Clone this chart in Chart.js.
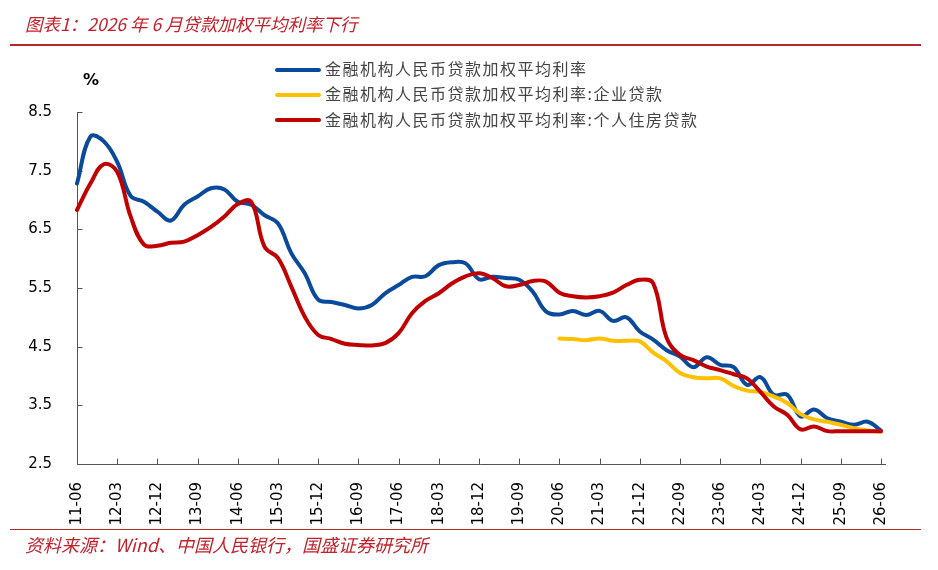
<!DOCTYPE html>
<html>
<head>
<meta charset="utf-8">
<script src="https://cdn.jsdelivr.net/npm/chart.js@4.4.1/dist/chart.umd.min.js"></script>
<style>
  body { margin: 0; background: #fff; }
  #wrap { position: relative; width: 938px; height: 570px; overflow: hidden; }
  #c { position: absolute; left: 0; top: 0; }
  .title, .source { position: absolute; left: 25px; color: #c3202b; font-style: italic;
    font-family: "Noto Sans CJK SC", sans-serif; white-space: nowrap; }
  .title { top: 11px; font-size: 17.5px; }
  .source { top: 531px; font-size: 18px; }
  .rule { position: absolute; left: 10px; width: 911px; height: 1.5px; background: #b7282e; }
  .pct { position: absolute; left: 83px; top: 70px; font: bold 16px "DejaVu Sans", sans-serif; color: #000; }
  #legend { position: absolute; left: 275px; top: 56px; font-family: "Noto Sans CJK SC", sans-serif;
    font-size: 16px; color: #444; letter-spacing: 1.5px; }
  #legend .row { height: 25.3px; line-height: 25px; white-space: nowrap; }
  #legend .sw { display: inline-block; width: 46px; height: 4px; border-radius: 2px; vertical-align: middle; margin-right: 4px; position: relative; top: -1px; }
</style>
</head>
<body>
<div id="wrap">
  <canvas id="c" width="938" height="570"></canvas>
  <div class="title">图表1：2026 年 6 月贷款加权平均利率下行</div>
  <div class="rule" style="top:44px"></div>
  <div class="rule" style="top:528.5px"></div>
  <div class="source">资料来源：Wind、中国人民银行，国盛证券研究所</div>
  <div class="pct">%</div>
  <div id="legend"></div>
</div>
<script>
// quarterly, 2011-06 .. 2026-06
var quarters = [
  '11-06','11-09','11-12','12-03','12-06','12-09','12-12','13-03','13-06','13-09','13-12',
  '14-03','14-06','14-09','14-12','15-03','15-06','15-09','15-12','16-03','16-06','16-09','16-12',
  '17-03','17-06','17-09','17-12','18-03','18-06','18-09','18-12','19-03','19-06','19-09','19-12',
  '20-03','20-06','20-09','20-12','21-03','21-06','21-09','21-12','22-03','22-06','22-09','22-12',
  '23-03','23-06','23-09','23-12','24-03','24-06','24-09','24-12','25-03','25-06','25-09','25-12',
  '26-03','26-06'
];

var seriesNames = [
  '金融机构人民币贷款加权平均利率',
  '金融机构人民币贷款加权平均利率:企业贷款',
  '金融机构人民币贷款加权平均利率:个人住房贷款'
];
var seriesColors = ['#0a4a9b', '#ffc000', '#c00000'];

var totalRate = [
  7.28, 8.08, 8.00, 7.65, 7.07, 6.97, 6.80, 6.65, 6.92, 7.06, 7.20,
  7.18, 6.97, 6.92, 6.74, 6.60, 6.09, 5.75, 5.30, 5.26, 5.21, 5.15, 5.21,
  5.41, 5.55, 5.69, 5.70, 5.89, 5.94, 5.92, 5.65, 5.69, 5.67, 5.64, 5.44,
  5.10, 5.05, 5.11, 5.04, 5.11, 4.94, 5.00, 4.76, 4.62, 4.44, 4.33, 4.15,
  4.32, 4.19, 4.15, 3.85, 3.98, 3.68, 3.68, 3.31, 3.43, 3.28, 3.22, 3.17,
  3.22, 3.07
];

var corporateRate = [
  null, null, null, null, null, null, null, null, null, null, null,
  null, null, null, null, null, null, null, null, null, null, null, null,
  null, null, null, null, null, null, null, null, null, null, null, null,
  null, 4.64, 4.63, 4.61, 4.64, 4.60, 4.60, 4.59, 4.40, 4.25, 4.05, 3.98,
  3.96, 3.96, 3.83, 3.75, 3.73, 3.65, 3.54, 3.35, 3.26, 3.22, 3.17, 3.11,
  3.07, 3.05
];

var mortgageRate = [
  6.83, 7.28, 7.61, 7.48, 6.72, 6.24, 6.22, 6.27, 6.29, 6.40, 6.54,
  6.72, 6.93, 6.97, 6.20, 6.01, 5.52, 5.01, 4.70, 4.63, 4.55, 4.53, 4.52,
  4.56, 4.73, 5.07, 5.28, 5.41, 5.58, 5.70, 5.75, 5.67, 5.53, 5.55, 5.62,
  5.61, 5.42, 5.36, 5.34, 5.36, 5.42, 5.55, 5.64, 5.58, 4.65, 4.36, 4.27,
  4.16, 4.10, 4.03, 3.96, 3.73, 3.48, 3.34, 3.09, 3.14, 3.06, 3.06, 3.06,
  3.06, 3.06
];

var yTicks = [2.5, 3.5, 4.5, 5.5, 6.5, 7.5, 8.5];

var seriesData = [totalRate, corporateRate, mortgageRate];

var legendEl = document.getElementById('legend');
seriesNames.forEach(function (n, i) {
  var row = document.createElement('div');
  row.className = 'row';
  row.innerHTML = '<span class="sw" style="background:' + seriesColors[i] + '"></span>' + n;
  legendEl.appendChild(row);
});

// axis lines and the short inward tick marks
var axisPlugin = {
  id: 'axisMarks',
  beforeDatasetsDraw: function (chart) {
    var ctx = chart.ctx, a = chart.chartArea;
    var xs = chart.scales.x, ys = chart.scales.y;
    ctx.save();
    ctx.strokeStyle = '#555';
    ctx.lineWidth = 1;
    ctx.beginPath();
    var lx = Math.round(a.left) + 0.5, by = Math.round(a.bottom) + 0.5;
    ctx.moveTo(lx, Math.round(a.top));
    ctx.lineTo(lx, by);
    ctx.lineTo(Math.round(a.right) + 5, by);
    ys.ticks.forEach(function (t, i) {
      var py = Math.round(ys.getPixelForTick(i)) + 0.5;
      ctx.moveTo(lx, py);
      ctx.lineTo(lx + 5, py);
    });
    quarters.forEach(function (q, i) {
      if (i % 3 !== 0) return;
      var px = Math.round(xs.getPixelForValue(i)) + 0.5;
      ctx.moveTo(px, by);
      ctx.lineTo(px, by - 6);
    });
    ctx.stroke();
    ctx.restore();
  }
};

new Chart(document.getElementById('c'), {
  type: 'line',
  data: {
    labels: quarters,
    datasets: seriesData.map(function (d, i) {
      return {
        label: seriesNames[i],
        data: d,
        borderColor: seriesColors[i],
        backgroundColor: seriesColors[i],
        borderWidth: 4,
        pointRadius: 0,
        tension: 0.4,
        borderCapStyle: 'round',
        borderJoinStyle: 'round',
        order: 2 - i
      };
    })
  },
  options: {
    responsive: false,
    animation: false,
    layout: { padding: { top: 112, right: 57, left: 0, bottom: 0 } },
    plugins: { legend: { display: false }, tooltip: { enabled: false } },
    scales: {
      x: {
        grid: { display: false },
        border: { display: false },
        ticks: {
          autoSkip: false,
          minRotation: 90,
          maxRotation: 90,
          padding: 10,
          color: '#000',
          font: { family: 'DejaVu Sans', size: 15 },
          callback: function (v, i) { return i % 3 === 0 ? quarters[i] : null; }
        },
        afterFit: function (s) { s.height = 106; }
      },
      y: {
        min: 2.5,
        max: 8.5,
        grid: { display: false },
        border: { display: false },
        afterBuildTicks: function (s) { s.ticks = yTicks.map(function (v) { return { value: v }; }); },
        ticks: {
          padding: 17,
          color: '#000',
          font: { family: 'DejaVu Sans', size: 15 },
          callback: function (v) { return v.toFixed(1); }
        },
        afterFit: function (s) { s.width = 77; }
      }
    }
  },
  plugins: [axisPlugin]
});
</script>
</body>
</html>
